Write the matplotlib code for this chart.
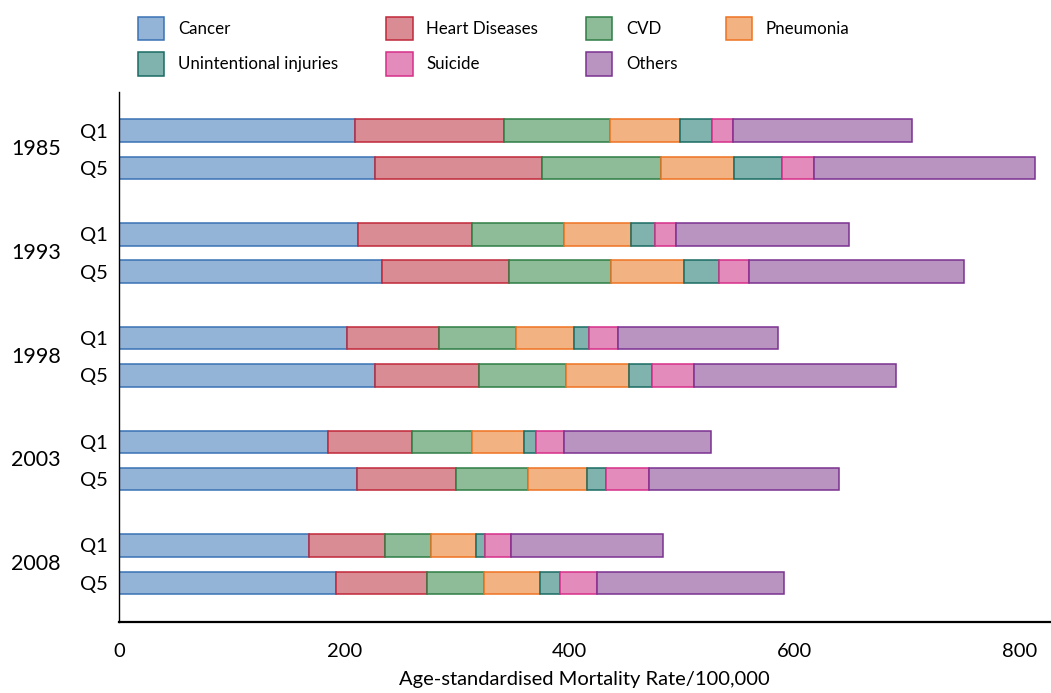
import numpy as np
import matplotlib
matplotlib.use("Agg")
import matplotlib.pyplot as plt
from matplotlib.transforms import blended_transform_factory

plt.rcParams['font.family'] = ['Lato', 'DejaVu Sans']

years = ["1985", "1993", "1998", "2003", "2008"]
groups = ["Q1", "Q5"]
causes = ["Cancer", "Heart Diseases", "CVD", "Pneumonia",
          "Unintentional injuries", "Suicide", "Others"]

# rows: 1985 Q1, 1985 Q5, 1993 Q1, ... 2008 Q5
cancer = [209, 227.6, 211.9, 233.5, 202.1, 227.0, 185.8, 211.0, 168.4, 192.6]
heart = [133, 147.9, 101.9, 113.2, 82.3, 93.0, 74.6, 88.0, 68.0, 80.6]
cvd = [94, 105.9, 81.2, 90.1, 68.5, 76.9, 53.1, 64.1, 40.4, 51.0]
pneumonia = [62, 64.4, 59.3, 65.0, 50.8, 56.2, 46.4, 52.9, 40.5, 49.5]
injuries = [29, 43.1, 21.5, 31.2, 14.1, 20.4, 10.5, 16.4, 7.5, 18.3]
suicide = [18.5, 28.4, 18.8, 26.6, 25.5, 37.6, 24.6, 38.7, 23.4, 32.6]
others = [159, 196.1, 153.7, 190.8, 141.9, 179.3, 130.7, 168.6, 135.1, 166.2]

fills = ["#93B3D7", "#D98C93", "#8FBC98", "#F3B282", "#80B2AE", "#E38CBC", "#BA94C0"]
edges = ["#3A73B5", "#C0283A", "#2E7D45", "#EE7322", "#1A6B63", "#D62F8A", "#7B3291"]

series = [cancer, heart, cvd, pneumonia, injuries, suicide, others]

fig = plt.figure(figsize=(10.51, 6.93), dpi=100)
ax = fig.add_axes([119.3/1051, 1-621.7/693, (1050-119.3)/1051, (621.7-92)/693])

ypos = []
for i in range(len(years)):
    ypos.append(i)
    ypos.append(i + 0.36)
ypos = np.array(ypos)

left = np.zeros(len(ypos))
bars = []
for k, vals in enumerate(series):
    b = ax.barh(ypos, vals, left=left, height=0.217, color=fills[k],
                edgecolor=edges[k], linewidth=1.1, label=causes[k])
    bars.append(b)
    left = left + np.array(vals)

ax.set_ylim(4.735, -0.373)
ax.set_xlim(0, 827)
ax.set_xticks([0, 200, 400, 600, 800])
ax.set_yticks(ypos)
ax.set_yticklabels(groups * len(years))
ax.tick_params(axis='y', length=0, pad=8, labelsize=14.5)
ax.tick_params(axis='x', length=0, pad=15, labelsize=14.5)

tr = blended_transform_factory(fig.transFigure, ax.transData)
for i, yr in enumerate(years):
    ax.text(61/1051, i + 0.18, yr, transform=tr, ha='right', va='center',
            fontsize=15.5)

ax.set_xlabel("Age-standardised Mortality Rate/100,000", fontsize=14.5, labelpad=8)

ax.spines['top'].set_visible(False)
ax.spines['right'].set_visible(False)
ax.spines['left'].set_linewidth(1.0)
ax.spines['bottom'].set_linewidth(1.6)

# legend filled column by column, so reorder to get row order of the original
order = [0, 4, 1, 5, 2, 6, 3]
ax.legend([bars[i] for i in order], [causes[i] for i in order],
          ncol=4, loc='upper left', bbox_to_anchor=(138/1051, 1-17/693),
          bbox_transform=fig.transFigure, frameon=False, fontsize=12.2,
          handlelength=1.55, handleheight=1.75, handletextpad=0.8,
          columnspacing=2.85, labelspacing=0.7, borderpad=0, borderaxespad=0)

fig.savefig("out.png", dpi=100)
